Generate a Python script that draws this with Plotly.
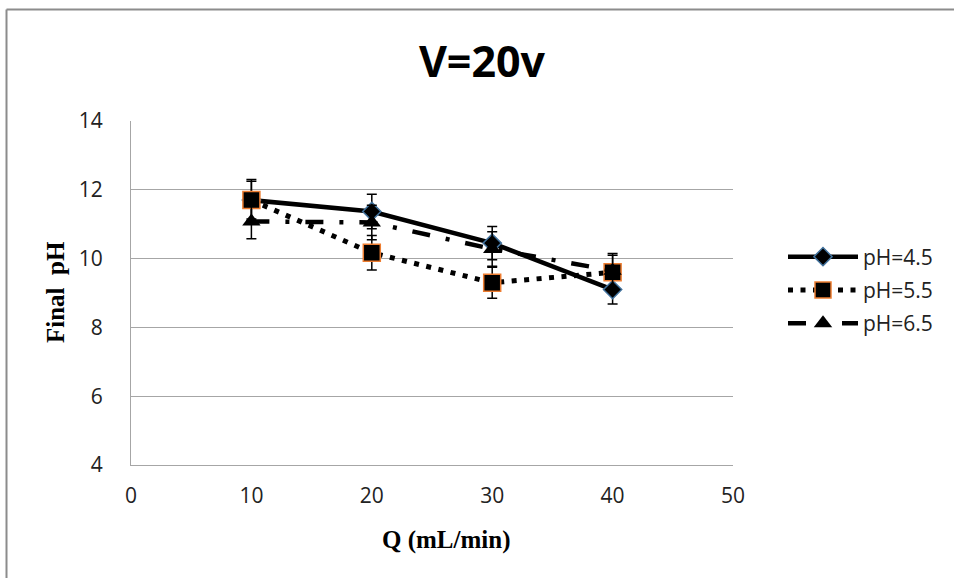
import plotly.graph_objects as go

Q = [10, 20, 30, 40]
ph45 = [11.7, 11.37, 10.45, 9.1]
ph45_err = [0.55, 0.5, 0.48, 0.42]
ph55 = [11.7, 10.17, 9.3, 9.6]
ph55_err = [0.6, 0.5, 0.45, 0.5]
ph65 = [11.08, 11.05, 10.28, 9.65]
ph65_err = [0.5, 0.5, 0.5, 0.5]

x_ticks = [0, 10, 20, 30, 40, 50]
y_ticks = [4, 6, 8, 10, 12, 14]

fig = go.Figure()

eb = dict(type="data", visible=True, color="black", thickness=1.5, width=5)

fig.add_trace(go.Scatter(
    x=Q, y=ph45, name="pH=4.5", mode="lines+markers", legendgroup="a",
    line=dict(color="black", width=4.5),
    marker=dict(symbol="diamond", size=14, color="black", line=dict(color="#41719C", width=1.5)),
    error_y=dict(array=ph45_err, **eb),
))
fig.add_trace(go.Scatter(
    x=Q, y=ph55, name="pH=5.5", mode="lines+markers", legendgroup="b",
    line=dict(color="black", width=5, dash="5px,7.5px"),
    marker=dict(symbol="square", size=17, color="black", line=dict(color="#ED7D31", width=1.5)),
    error_y=dict(array=ph55_err, **eb),
))
fig.add_trace(go.Scatter(
    x=Q, y=ph65, name="pH=6.5", mode="lines+markers", legendgroup="c",
    line=dict(color="black", width=4.5, dash="18px,16px,4px,16px"),
    marker=dict(symbol="triangle-up", size=16, color="black"),
    error_y=dict(array=ph65_err, **eb),
))

fig.update_layout(
    width=954, height=578,
    margin=dict(l=131, r=221, t=121, b=113),
    paper_bgcolor="white", plot_bgcolor="white",
    font=dict(family="Open Sans", size=21, color="#222"),
    title=dict(text="<b>V=20v</b>", x=482/954, xref="container", xanchor="center",
               y=1 - 62/578, yref="container", yanchor="middle",
               font=dict(family="Open Sans", size=43, color="black")),
    showlegend=True,
    legend=dict(x=(783-131)/602, xanchor="left", y=(465-290)/344, yanchor="middle",
                font=dict(family="Open Sans", size=21, color="#222"),
                itemwidth=70, tracegroupgap=3, bgcolor="rgba(0,0,0,0)"),
    xaxis=dict(range=[0, 50], tickvals=x_ticks, showgrid=False, zeroline=False,
               showline=True, linecolor="#A6A6A6", linewidth=1.3, ticks="",
               ticklabelstandoff=12, tickfont=dict(size=21, color="#222")),
    yaxis=dict(range=[4, 14], tickvals=y_ticks, showgrid=True, gridcolor="#A6A6A6",
               gridwidth=1.3, zeroline=False, showline=True, linecolor="#A6A6A6",
               linewidth=1.3, ticks="", ticklabelstandoff=23,
               tickfont=dict(size=21, color="#222")),
    annotations=[
        dict(text="<b>Q (mL/min)</b>", xref="paper", yref="paper",
             x=(446-131)/602, y=(465-540)/344, xanchor="center", yanchor="middle",
             showarrow=False, font=dict(family="Liberation Serif", size=25, color="black")),
        dict(text="<b>Final  pH</b>", xref="paper", yref="paper",
             x=(55-131)/602, y=(465-292)/344, xanchor="center", yanchor="middle",
             textangle=-90, showarrow=False,
             font=dict(family="Liberation Serif", size=25, color="black")),
    ],
    shapes=[
        dict(type="line", xref="paper", yref="paper",
             x0=(6.5-131)/602, x1=(960-131)/602, y0=(465-9.5)/344, y1=(465-9.5)/344,
             line=dict(color="#8C8C8C", width=2)),
        dict(type="line", xref="paper", yref="paper",
             x0=(6.5-131)/602, x1=(6.5-131)/602, y0=(465-9.5)/344, y1=(465-590)/344,
             line=dict(color="#8C8C8C", width=2)),
    ],
)

fig.write_html("out.html")
